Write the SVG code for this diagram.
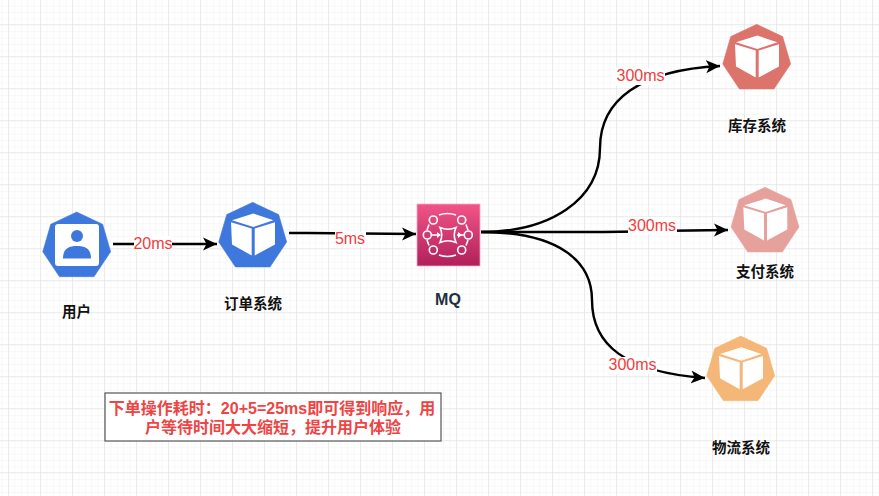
<svg xmlns="http://www.w3.org/2000/svg" width="879" height="496" viewBox="0 0 879 496">
<style>
text{font-family:"Liberation Sans","Noto Sans CJK SC",sans-serif}
.name{font-size:14.5px;font-weight:bold;fill:#111;text-anchor:middle}
.lat{font-size:16px;fill:#f23c3c;text-anchor:middle}
.lab{fill:#fff}
.edge{fill:none;stroke:#000;stroke-width:2.4;marker-end:url(#arr)}
.w{fill:none;stroke:#fff;stroke-width:1.6}
</style>
<defs>
<pattern id="minor" width="6.4" height="6.4" patternUnits="userSpaceOnUse" x="1.6" y="5.6"><path d="M6.4 0H0V6.4" fill="none" stroke="#f1f1f1" stroke-width="1"/></pattern>
<pattern id="major" width="32" height="32" patternUnits="userSpaceOnUse" x="8" y="24"><path d="M32 0H0V32" fill="none" stroke="#dedede" stroke-width="1"/></pattern>
<marker id="arr" markerUnits="userSpaceOnUse" markerWidth="15" markerHeight="14" refX="14" refY="7" orient="auto"><path d="M0 0.500L14 7L0 13.500L3.500 7Z" fill="#000"/></marker>
<linearGradient id="mq" x1="0" y1="0" x2="0" y2="1"><stop offset="0" stop-color="#f25488"/><stop offset="1" stop-color="#b0205a"/></linearGradient>
<path id="hept" d="M0 0L26 12.3L34 39.7L17.3 64.7H-17.3L-34 39.7L-26 12.3Z" stroke-linejoin="round" stroke-width="0.5"/>
<g id="cube" fill="#fff">
<path d="M0.7 11.3L20.7 18L0.7 24.7L-20.7 18Z"/>
<path d="M-21.7 20L-1 26.3V53.3L-20.7 42.3Z"/>
<path d="M2 26.3L22.3 20V42.3L2 53.3Z"/>
</g>
</defs>
<rect width="879" height="496" fill="#fff"/>
<rect width="879" height="496" fill="url(#minor)"/>
<rect width="879" height="496" fill="url(#major)"/>
<g id="connectors">
<path class="edge" d="M113 244H217"/>
<path class="edge" d="M289 233C330 233 370 234 416 234"/>
<path class="edge" d="M481 232C550 232 600 200 600 148C600 100 640 70 720 66"/>
<path class="edge" d="M481 232H590C640 232 680 230 728 230"/>
<path class="edge" d="M481 232C560 232 592 262 592 300C592 345 625 372 705 378"/>
<g id="edge-labels">
<rect class="lab" x="134" y="236" width="38" height="16"/><text class="lat" x="153" y="249">20ms</text>
<rect class="lab" x="335" y="232" width="31" height="15"/><text class="lat" x="350" y="244">5ms</text>
<rect class="lab" x="616" y="68" width="49" height="17"/><text class="lat" x="640.500" y="81">300ms</text>
<rect class="lab" x="628" y="217" width="49" height="17"/><text class="lat" x="652" y="230.500">300ms</text>
<rect class="lab" x="608" y="357" width="49" height="17"/><text class="lat" x="632.500" y="370">300ms</text>
</g>
</g>
<g id="user">
<use href="#hept" x="76.700" y="212" fill="#3f78dc" stroke="#3f78dc"/>
<rect x="55" y="224" width="44" height="42" rx="3" fill="#fff"/>
<circle cx="77" cy="236" r="6" fill="#3f78dc"/>
<path d="M63 258.500C63 248 69 246 77 246S91 248 91 258.500Z" fill="#3f78dc"/>
<text class="name" x="76.500" y="317">用户</text>
</g>
<g id="order">
<use href="#hept" x="252.700" y="202.300" fill="#3f78dc" stroke="#3f78dc"/>
<use href="#cube" x="252.700" y="202.300"/>
<text class="name" x="253" y="309">订单系统</text>
</g>
<g id="mq-node">
<rect x="417" y="204" width="63" height="62" fill="url(#mq)" stroke="#f7a8c4" stroke-width="0.8"/>
<g class="w">
<circle cx="433.300" cy="220" r="4"/><circle cx="461.700" cy="220" r="4"/>
<circle cx="427.300" cy="235" r="4"/><circle cx="468.300" cy="235" r="4"/>
<circle cx="433.300" cy="250" r="4"/><circle cx="461.700" cy="250" r="4"/>
<path d="M439 215Q447.500 212 456 215M439 255Q447.500 258 456 255M429 224.500L427 230M466 224.500L468 230M429 245.500L427 240M466 245.500L468 240"/>
<path d="M440 227.500Q448 231 456 227.500Q452.500 235 456 242.500Q448 239 440 242.500Q443.500 235 440 227.500Z"/>
<path d="M431.500 235H438M457 235H464"/>
</g>
<path d="M437 232L441 235L437 238ZM458 232L462 235L458 238Z" fill="#fff"/>
<text x="448" y="305" font-size="16" font-weight="bold" fill="#232f3e" text-anchor="middle">MQ</text>
</g>
<g id="stock">
<use href="#hept" x="756.700" y="24.300" fill="#dc746b" stroke="#dc746b"/>
<use href="#cube" x="756.700" y="24.300"/>
<text class="name" x="757" y="131">库存系统</text>
</g>
<g id="pay">
<use href="#hept" x="765" y="187.300" fill="#e6a19d" stroke="#e6a19d"/>
<use href="#cube" x="765" y="187.300"/>
<text class="name" x="765" y="277">支付系统</text>
</g>
<g id="logistics">
<use href="#hept" x="740.700" y="336" fill="#f4b777" stroke="#f4b777"/>
<use href="#cube" x="740.700" y="336"/>
<text class="name" x="741" y="453">物流系统</text>
</g>
<g id="note">
<rect x="105" y="393" width="336" height="48" fill="#fff" stroke="#555" stroke-width="1.2"/>
<text x="272" y="414" font-size="16" font-weight="bold" fill="#ee4444" text-anchor="middle">下单操作耗时：20+5=25ms即可得到响应，用</text>
<text x="273" y="433" font-size="16" font-weight="bold" fill="#ee4444" text-anchor="middle">户等待时间大大缩短，提升用户体验</text>
</g>
</svg>
